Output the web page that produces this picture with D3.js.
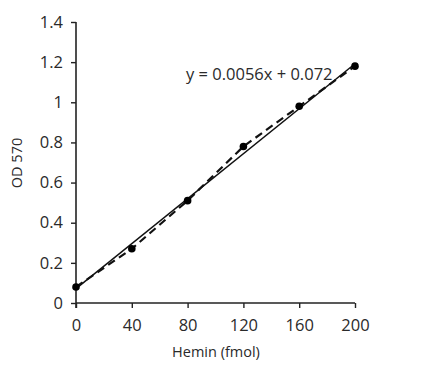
<!DOCTYPE html>
<html><head><meta charset="utf-8">
<script src="https://cdn.jsdelivr.net/npm/d3@7"></script>
<style>
html,body{margin:0;padding:0;background:#fff;}
text{font-family:"Open Sans","Noto Sans",sans-serif;fill:#2a2a2a;}
</style></head>
<body><svg id="c" width="426" height="376"></svg>
<script>
const hemin = [0, 40, 80, 120, 160, 200];
const od570 = [0.08, 0.27, 0.51, 0.78, 0.98, 1.18];
const xTicks = [0, 40, 80, 120, 160, 200];
const yTicks = [0, 0.2, 0.4, 0.6, 0.8, 1, 1.2, 1.4];
const slope = 0.0056, intercept = 0.072;
const equation = "y = 0.0056x + 0.072";

const svg = d3.select("#c");
const x = d3.scaleLinear().domain([0, 200]).range([76, 355]);
const y = d3.scaleLinear().domain([0, 1.4]).range([303, 22]);

const xAxis = svg.append("g").attr("transform", "translate(0,303)")
  .call(d3.axisBottom(x).tickValues(xTicks).tickSize(5).tickPadding(11).tickFormat(d3.format("d")));
const yAxis = svg.append("g").attr("transform", "translate(76,0)")
  .call(d3.axisLeft(y).tickValues(yTicks).tickSize(5).tickPadding(8).tickFormat(d => d === 0 ? "0" : d3.format("")(+d.toFixed(1))));
[xAxis, yAxis].forEach(g => {
  g.select(".domain").attr("stroke", "#222").attr("stroke-width", 1.6);
  g.selectAll(".tick line").attr("stroke", "#222").attr("stroke-width", 1.4);
  g.selectAll(".tick text").style("font-size", "16.5px").attr("fill", "#2a2a2a");
});
xAxis.select(".domain").attr("d", `M${x(0)},0H${x(200)}`);
yAxis.select(".domain").attr("d", `M0,${y(1.4)}V${y(0)+5}`);

svg.append("line")
  .attr("x1", x(0)).attr("y1", y(intercept))
  .attr("x2", x(200)).attr("y2", y(slope * 200 + intercept))
  .attr("stroke", "#111").attr("stroke-width", 1.5);

const pts = hemin.map((h, i) => [h, od570[i]]);
svg.append("path").datum(pts)
  .attr("d", d3.line().x(d => x(d[0])).y(d => y(d[1])))
  .attr("fill", "none").attr("stroke", "#111").attr("stroke-width", 2.2)
  .attr("stroke-dasharray", "8,5");

svg.selectAll("circle.pt").data(pts).enter().append("circle")
  .attr("class", "pt").attr("cx", d => x(d[0])).attr("cy", d => y(d[1]))
  .attr("r", 3.8).attr("fill", "#000");

svg.append("text").attr("x", 186).attr("y", 80).style("font-size", "16.5px").text(equation);

svg.append("text").attr("x", 216).attr("y", 357).attr("text-anchor", "middle")
  .style("font-size", "14.5px").text("Hemin (fmol)");
svg.append("text").attr("transform", "translate(22,163) rotate(-90)").attr("text-anchor", "middle")
  .style("font-size", "14.5px").text("OD 570");
</script></body></html>
